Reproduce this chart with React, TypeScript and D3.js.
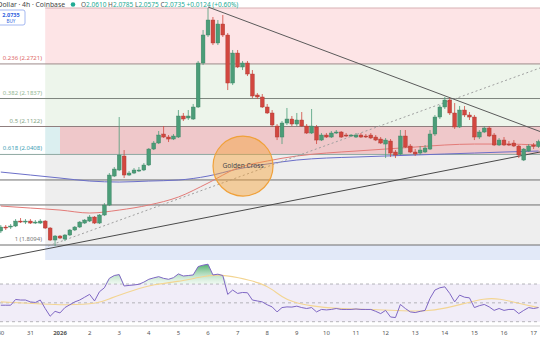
import React from "react";
import * as d3 from "d3";

const W = 540;
const H = 340;

// ---------- data ----------
// 4h candles, index relative to 2026-01-01 00:00
const firstCandle = -12;
const opens = [
  1.8451, 1.8553, 1.8553, 1.8579, 1.8706, 1.8681, 1.8706, 1.8655, 1.8655, 1.8706, 1.8528, 1.8221,
  1.8323, 1.8246, 1.8349, 1.8477, 1.8553, 1.8655, 1.8706, 1.8809, 1.8655, 1.886, 1.9115, 1.9856,
  2.001, 2.0368, 1.9882, 1.9933, 1.9984, 2.001, 2.0138, 2.0546, 2.07, 2.093, 2.0853, 2.0802,
  2.0853, 2.139, 2.1339, 2.1313, 2.162, 2.2744, 2.346, 2.3843, 2.3256, 2.3741, 2.346, 2.2233,
  2.2999, 2.2642, 2.2744, 2.2463, 2.1927, 2.1876, 2.162, 2.1467, 2.1134, 2.0853, 2.1211, 2.1313,
  2.1185, 2.1288, 2.1134, 2.0955, 2.1109, 2.0776, 2.0904, 2.0853, 2.0955, 2.0981, 2.0904, 2.0879,
  2.0853, 2.0904, 2.0879, 2.0904, 2.0853, 2.0802, 2.0674, 2.0751, 2.047, 2.0419, 2.0879, 2.0623,
  2.047, 2.0444, 2.047, 2.0546, 2.093, 2.1364, 2.162, 2.1799, 2.1467, 2.1109, 2.1543, 2.1416,
  2.1364, 2.0853, 2.0981, 2.1083, 2.0904, 2.0649, 2.0776, 2.0674, 2.07, 2.0623, 2.0265, 2.0495,
  2.0649, 2.061,
];
const highs = [
  1.8604, 1.8604, 1.863, 1.8757, 1.8783, 1.8757, 1.8757, 1.8732, 1.8757, 1.8732, 1.8553, 1.8349,
  1.8349, 1.8374, 1.8502, 1.8579, 1.8706, 1.8757, 1.886, 1.8834, 1.8885, 1.9166, 1.9933, 2.0087,
  2.1364, 2.0521, 1.9984, 2.0061, 2.0087, 2.0189, 2.0572, 2.0751, 2.1007, 2.1134, 2.0904, 2.093,
  2.1543, 2.1467, 2.1543, 2.1697, 2.2796, 2.3588, 2.415, 2.392, 2.3843, 2.3971, 2.3511, 2.3077,
  2.3077, 2.2796, 2.2796, 2.2565, 2.1978, 2.1952, 2.1697, 2.1543, 2.1185, 2.1262, 2.1595, 2.139,
  2.1467, 2.1492, 2.1185, 2.1569, 2.116, 2.0955, 2.0955, 2.1007, 2.1032, 2.1007, 2.0955, 2.093,
  2.0955, 2.0955, 2.093, 2.0955, 2.0904, 2.0853, 2.0828, 2.0802, 2.0521, 2.1032, 2.1032, 2.0674,
  2.0546, 2.0623, 2.0649, 2.1032, 2.1416, 2.1671, 2.1876, 2.185, 2.1722, 2.1646, 2.1646, 2.1492,
  2.1416, 2.1032, 2.1134, 2.1134, 2.0955, 2.0828, 2.0853, 2.0751, 2.0776, 2.0649, 2.0572, 2.0674,
  2.07, 2.0785,
];
const lows = [
  1.84, 1.8477, 1.8502, 1.8553, 1.8655, 1.863, 1.863, 1.863, 1.863, 1.8502, 1.8195, 1.8068,
  1.8246, 1.8195, 1.8323, 1.8451, 1.8528, 1.863, 1.8681, 1.863, 1.863, 1.8834, 1.9089, 1.9831,
  1.9984, 1.9805, 1.9856, 1.9907, 1.9959, 1.9984, 2.0112, 2.0521, 2.0674, 2.0828, 2.0725, 2.0776,
  2.0828, 2.1262, 2.1288, 2.1288, 2.1595, 2.2693, 2.3409, 2.3204, 2.3204, 2.3409, 2.2054, 2.2182,
  2.2616, 2.2565, 2.2412, 2.185, 2.1824, 2.1595, 2.1441, 2.1109, 2.0776, 2.0674, 2.116, 2.1134,
  2.1134, 2.1109, 2.093, 2.093, 2.0674, 2.0751, 2.0828, 2.0828, 2.093, 2.0828, 2.0853, 2.0853,
  2.0828, 2.0828, 2.0828, 2.0802, 2.0751, 2.0674, 2.0316, 2.0342, 2.0316, 2.0393, 2.0572, 2.0444,
  2.0368, 2.0393, 2.0444, 2.0521, 2.0879, 2.1313, 2.1569, 2.1416, 2.1058, 2.1083, 2.1364, 2.1288,
  2.0776, 2.0802, 2.0955, 2.0853, 2.0623, 2.0623, 2.0623, 2.0623, 2.0597, 2.0316, 2.024, 2.047,
  2.0546, 2.0575,
];
const closes = [
  1.8553, 1.8528, 1.8579, 1.8706, 1.8681, 1.8706, 1.8655, 1.8681, 1.8706, 1.8528, 1.8221, 1.8323,
  1.8272, 1.8349, 1.8477, 1.8553, 1.8681, 1.8732, 1.8809, 1.8655, 1.886, 1.9115, 1.9882, 2.0035,
  2.0393, 1.9882, 1.9933, 2.001, 2.001, 2.0138, 2.0546, 2.07, 2.0904, 2.0853, 2.0802, 2.0879,
  2.139, 2.1313, 2.139, 2.162, 2.2744, 2.346, 2.3843, 2.3256, 2.3741, 2.346, 2.2233, 2.2999,
  2.2642, 2.2744, 2.2463, 2.1901, 2.1876, 2.162, 2.1467, 2.116, 2.0853, 2.1211, 2.1313, 2.1185,
  2.1288, 2.1134, 2.0955, 2.1134, 2.0776, 2.0904, 2.0853, 2.0955, 2.0981, 2.0853, 2.0879, 2.0904,
  2.0904, 2.0853, 2.0866, 2.0828, 2.0776, 2.07, 2.0776, 2.0444, 2.0393, 2.0879, 2.0597, 2.047,
  2.0419, 2.0521, 2.0572, 2.093, 2.1364, 2.162, 2.1799, 2.1467, 2.1109, 2.1543, 2.1416, 2.1364,
  2.0853, 2.0981, 2.1083, 2.0879, 2.0649, 2.0776, 2.0649, 2.0649, 2.0623, 2.0393, 2.0546, 2.0623,
  2.0611, 2.0735,
];

const rsiValues = [
  47.5, 47.5, 47.5, 53.6, 53, 53, 51, 50.4, 53, 44, 35.8, 41,
  39.3, 45, 48, 51, 53, 56, 59, 52, 61.8, 66, 76, 79,
  80, 67.9, 68.5, 69, 69.7, 72, 75, 76.5, 77.8, 76, 75, 76.7,
  80.7, 78.5, 79, 79.6, 88.5, 90, 91, 79.6, 80.4, 79, 59, 63.6,
  60, 61, 60.7, 53, 52, 51, 48, 45.7, 40.4, 45, 45.7, 45.5,
  46.5, 45, 44, 45, 40.4, 43, 42.5, 43, 44, 43, 43, 43,
  43.5, 43, 43, 43, 41, 38.6, 42, 35, 34.4, 48.3, 44, 40.4,
  39.7, 41, 42, 54.7, 63.6, 66, 67, 60, 51, 58.2, 56, 55.3,
  45, 47, 48.3, 45.7, 42, 44, 42, 43, 43, 38.6, 42, 45,
  44, 45,
];
const rsiMaIdx = [-12, -3, 1, 8, 10, 15, 19, 24, 28, 32, 36, 41, 43, 45, 47, 51, 56, 63, 70, 74, 78, 82, 86, 89, 93, 97];
const rsiMaVal = [51, 48.6, 47.5, 49.3, 54.7, 63.6, 69.7, 72.5, 77, 80.7, 77, 70.7, 64.3, 56.4, 51, 46.5, 44, 43, 41.4, 41, 44, 49.4, 54.7, 54.7, 49.4, 45];

const maIdx = [-12, -6, 0, 6, 12, 18, 24, 30, 36, 42, 48, 54, 60, 66, 72, 78, 84, 90, 97];
const redMA = [1.9089, 1.9038, 1.8987, 1.8911, 1.8987, 1.9115, 1.932, 1.9677, 2.0061, 2.024, 2.0368, 2.0444, 2.0495, 2.0546, 2.0597, 2.0649, 2.0674, 2.0674, 2.0649];
const blueMA = [1.9958, 1.9882, 1.9805, 1.9728, 1.9703, 1.9728, 1.9754, 1.9856, 2.0035, 2.0163, 2.0265, 2.0316, 2.0342, 2.0368, 2.0393, 2.0419, 2.0444, 2.047, 2.0495];

const fibRatios = [0, 0.236, 0.382, 0.5, 0.618, 1];
const fibPrices = [2.415, 2.2721, 2.1837, 2.1122, 2.0408, 1.8094];
const fibLabelColors = ["#d98c8c", "#e06a6a", "#94b894", "#86a686", "#3f9fb6", "#7a7a7a"];
const extraLevels = [1.9756, 1.9117];
const lowerBandPrice = 1.771;
const fibStartIdx = -3;
const boxStartIdx = 0;

const trendDown: [number, number][] = [[30, 2.4176], [97.3, 2.0994]];
const trendUp: [number, number][] = [[-12.2, 1.776], [97.3, 2.047]];
const trendDotted: [number, number][] = [[-2.4, 1.8068], [97.3, 2.2617]];

const goldenCross = { idx: 37.1, price: 2.0112, label: "Golden Cross" };

const dayIdx = [-12, -6, 0, 6, 12, 18, 24, 30, 36, 42, 48, 54, 60, 66, 72, 78, 84, 90, 96];
const dayLabels = ["30", "31", "2026", "2", "3", "4", "5", "6", "7", "8", "9", "10", "11", "12", "13", "14", "15", "16", "17"];

const FONT = "'Noto Sans', 'DejaVu Sans', sans-serif";
const UP = "#4b9d78";
const DOWN = "#d2473f";

export default function App() {
  const x = d3.scaleLinear().domain([0, 96]).range([60, 533.6]);
  const y = d3.scaleLinear().domain([1.8094, 2.415]).range([245, 8]);
  const yr = d3.scaleLinear().domain([30, 70]).range([321.7, 284]);
  const ks = opens.map((_, i) => i + firstCandle);

  const priceLine = d3
    .line<[number, number]>()
    .x((d) => x(d[0]))
    .y((d) => y(d[1]))
    .curve(d3.curveMonotoneX);
  const straight = d3
    .line<[number, number]>()
    .x((d) => x(d[0]))
    .y((d) => y(d[1]));

  const rsiLine = d3
    .line<number>()
    .x((_, i) => x(ks[i]))
    .y((d) => yr(d));
  const rsiArea = d3
    .area<number>()
    .x((_, i) => x(ks[i]))
    .y0(yr(70))
    .y1((d) => yr(Math.max(d, 70)));
  const rsiMa = d3
    .line<number>()
    .x((_, i) => x(rsiMaIdx[i]))
    .y((d) => yr(d))
    .curve(d3.curveBasis);

  const fx0 = x(fibStartIdx);
  const zoneRect = (p1: number, p2: number, x0: number, fill: string, key: string) => (
    <rect key={key} x={x0} width={W - x0} y={y(p1)} height={y(p2) - y(p1)} fill={fill} />
  );

  const bw = 3.8;

  return (
    <svg
      width={W}
      height={H}
      style={{ position: "absolute", left: 0, top: 0, background: "#fff" }}
      fontFamily={FONT}
    >
      <defs>
        <linearGradient id="obGrad" gradientUnits="userSpaceOnUse" x1="0" x2="0" y1={yr(92)} y2={yr(70)}>
          <stop offset="0" stopColor="#2f9e52" stopOpacity="0.9" />
          <stop offset="1" stopColor="#bfe6c8" stopOpacity="0.25" />
        </linearGradient>
        <clipPath id="obClip">
          <rect x={0} y={250} width={W} height={yr(70) - 250} />
        </clipPath>
      </defs>

      {/* fib zones */}
      {zoneRect(fibPrices[0], fibPrices[1], fx0, "#fde4e6", "z0")}
      {zoneRect(fibPrices[1], fibPrices[2], fx0, "#edf5eb", "z1")}
      {zoneRect(fibPrices[2], fibPrices[3], fx0, "#edf5eb", "z2")}
      {zoneRect(fibPrices[3], fibPrices[4], fx0, "#dbeff0", "z3")}
      {zoneRect(fibPrices[3], fibPrices[4], x(boxStartIdx), "#efc8ca", "box")}
      {zoneRect(fibPrices[4], fibPrices[5], fx0, "#eeeeee", "z4")}
      {zoneRect(fibPrices[5], lowerBandPrice, fx0, "#e2e9f8", "z5")}

      {/* fib lines */}
      {fibPrices.map((p, i) => (
        <line
          key={"fl" + i}
          x1={i === 0 ? fx0 : 0}
          x2={W}
          y1={y(p)}
          y2={y(p)}
          stroke={["#d8b0b3", "#9d8a8a", "#7d857d", "#8f7e7e", "#8fa8a2", "#6e6e6e"][i]}
          strokeWidth={1}
        />
      ))}
      {extraLevels.map((p, i) => (
        <line key={"el" + i} x1={0} x2={W} y1={y(p)} y2={y(p)} stroke="#6e6e6e" strokeWidth={1} />
      ))}
      {fibRatios.map((r, i) =>
        i === 0 ? null : (
          <text
            key={"ft" + i}
            x={42}
            y={y(fibPrices[i]) - 4}
            fontSize={6}
            textAnchor="end"
            fill={fibLabelColors[i]}
          >
            {`${r} (${fibPrices[i].toFixed(4)})`}
          </text>
        )
      )}

      {/* moving averages */}
      <path
        d={priceLine(maIdx.map((k, i) => [k, blueMA[i]] as [number, number])) || ""}
        fill="none"
        stroke="#6b6fc9"
        strokeWidth={1}
      />
      <path
        d={priceLine(maIdx.map((k, i) => [k, redMA[i]] as [number, number])) || ""}
        fill="none"
        stroke="#e37b78"
        strokeWidth={1}
      />

      {/* trend lines */}
      <path d={straight(trendDotted) || ""} stroke="#a0a0a0" strokeWidth={1} strokeDasharray="2,2.5" fill="none" />
      <path d={straight(trendUp) || ""} stroke="#4a4a4a" strokeWidth={1} fill="none" />
      <path d={straight(trendDown) || ""} stroke="#5a5a5a" strokeWidth={1} fill="none" />

      {/* candles */}
      {ks.map((k, i) => {
        const o = opens[i];
        const c = closes[i];
        const col = c >= o ? UP : DOWN;
        const cx = x(k);
        const top = y(Math.max(o, c));
        const bot = y(Math.min(o, c));
        return (
          <g key={"c" + i}>
            <line x1={cx} x2={cx} y1={y(highs[i])} y2={y(lows[i])} stroke={col} strokeWidth={0.8} />
            <rect
              x={cx - bw / 2}
              y={top}
              width={bw}
              height={Math.max(1, bot - top)}
              fill={col}
              stroke={c >= o ? "#3a7f60" : "#a83a34"}
              strokeWidth={0.4}
            />
          </g>
        );
      })}

      {/* golden cross annotation */}
      <circle
        cx={x(goldenCross.idx)}
        cy={y(goldenCross.price)}
        r={30}
        fill="rgba(247,162,55,0.45)"
        stroke="#f0a13a"
        strokeWidth={1.2}
      />
      <text
        x={x(goldenCross.idx)}
        y={y(goldenCross.price) + 2}
        fontSize={6.6}
        textAnchor="middle"
        fill="#4a4a4a"
      >
        {goldenCross.label}
      </text>

      {/* RSI pane */}
      <rect x={0} y={yr(70)} width={W} height={yr(30) - yr(70)} fill="#f1edf8" />
      {[70, 50, 30].map((v) => (
        <line
          key={"rl" + v}
          x1={0}
          x2={W}
          y1={yr(v)}
          y2={yr(v)}
          stroke="#a3a3a8"
          strokeWidth={0.8}
          strokeDasharray="3,3"
        />
      ))}
      <path d={rsiArea(rsiValues) || ""} fill="url(#obGrad)" clipPath="url(#obClip)" />
      <path d={rsiMa(rsiMaVal) || ""} fill="none" stroke="#f3d592" strokeWidth={1.1} />
      <path d={rsiLine(rsiValues) || ""} fill="none" stroke="#7f67c4" strokeWidth={1} />

      {/* time axis */}
      <line x1={0} x2={W} y1={326} y2={326} stroke="#cfcfcf" strokeWidth={1} />
      {dayIdx.map((k, i) => (
        <text
          key={"dl" + i}
          x={x(k)}
          y={335}
          fontSize={6}
          textAnchor="middle"
          fill="#555"
          fontWeight={dayLabels[i] === "2026" ? 700 : 400}
        >
          {dayLabels[i]}
        </text>
      ))}

      {/* header */}
      <text x={65} y={7} fontSize={6.8} textAnchor="end" fill="#444">
        XRP / U.S. Dollar · 4h · Coinbase
      </text>
      <circle cx={73} cy={4.5} r={2.3} fill="#22ab94" />
      <text x={81} y={7} fontSize={6.5} fill="#22ab94">
        <tspan fill="#555">O</tspan>
        {opens[opens.length - 1].toFixed(4)}
        <tspan fill="#555"> H</tspan>
        {highs[highs.length - 1].toFixed(4)}
        <tspan fill="#555"> L</tspan>
        {lows[lows.length - 1].toFixed(4)}
        <tspan fill="#555"> C</tspan>
        {closes[closes.length - 1].toFixed(4)}
        {" +0.0124 (+0.60%)"}
      </text>

      {/* buy box */}
      <rect x={-3} y={10} width={28} height={15} rx={2} fill="#fff" stroke="#8ea6ee" strokeWidth={0.8} />
      <text x={11} y={17.3} fontSize={5.6} fontWeight={700} textAnchor="middle" fill="#2f5fe0">
        {closes[closes.length - 1].toFixed(4)}
      </text>
      <text x={11} y={23.3} fontSize={4.6} textAnchor="middle" fill="#2f5fe0">
        BUY
      </text>
    </svg>
  );
}
